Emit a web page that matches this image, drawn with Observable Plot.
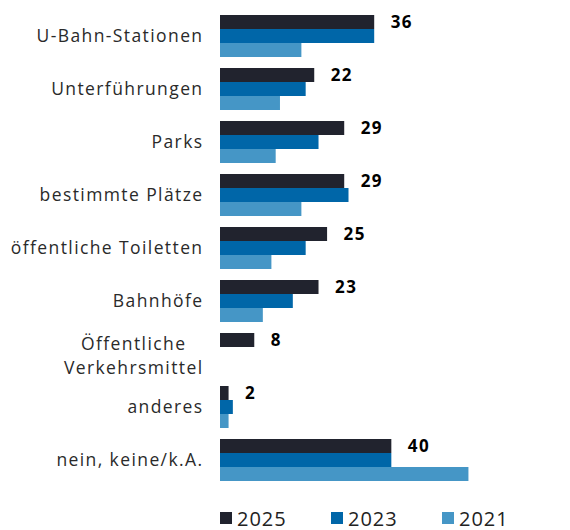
<!DOCTYPE html>
<html>
<head>
<meta charset="utf-8">
<script src="https://cdn.jsdelivr.net/npm/d3@7"></script>
<script src="https://cdn.jsdelivr.net/npm/@observablehq/plot@0.6"></script>
<style>
  body { margin: 0; background: #fff; font-family: "Open Sans", sans-serif; }
  #legend { display: flex; padding-left: 220px; height: 40px; margin-top: 3px; align-items: center; }
  .item { width: 111px; display: flex; align-items: center; font-size: 20px; color: #222; letter-spacing: 1px; }
  .sw { width: 12px; height: 12px; margin-right: 5px; }
</style>
</head>
<body>
<div id="chart"></div>
<div id="legend"></div>
<script>
const categories = ["U-Bahn-Stationen", "Unterführungen", "Parks", "bestimmte Plätze", "öffentliche Toiletten", "Bahnhöfe", "Öffentliche Verkehrsmittel", "anderes", "nein, keine/k.A."];
const years = ["2025", "2023", "2021"];
const v2025 = [36, 22, 29, 29, 25, 23, 8, 2, 40];
const v2023 = [36, 20, 23, 30, 20, 17, null, 3, 40];
const v2021 = [19, 14, 13, 19, 12, 10, null, 2, 58];
const colors = ["#21232e", "#0066a8", "#4596c6"];

const series = [v2025, v2023, v2021];
const data = [];
categories.forEach((c, i) => {
  years.forEach((y, j) => {
    const v = series[j][i];
    if (v != null) data.push({category: c, year: y, value: v});
  });
});

const fs = 17.5;
const ls = 1.4;
const multi = "Öffentliche Verkehrsmittel";
const multiText = "Öffentliche\nVerkehrsmittel";
const ctx = document.createElement("canvas").getContext("2d");
ctx.font = fs + "px 'Open Sans'";
const multiW = ctx.measureText("Verkehrsmittel").width + 14 * ls;

const chart = Plot.plot({
  width: 570,
  height: 495,
  marginLeft: 220,
  marginRight: 93,
  marginTop: 13,
  marginBottom: 12,
  style: {fontFamily: "'Open Sans', sans-serif", letterSpacing: ls + "px"},
  x: {domain: [0, 60], axis: null},
  y: {domain: years, padding: 0, axis: null},
  fy: {domain: categories, paddingInner: 0.174, paddingOuter: 0, axis: null},
  color: {domain: years, range: colors},
  marks: [
    Plot.barX(data, {x: "value", y: "year", fy: "category", fill: "year"}),
    Plot.text(data.filter(d => d.year === "2025"), {
      x: "value", y: "year", fy: "category", text: d => String(d.value),
      textAnchor: "start", dx: 16, fontWeight: 700, fontSize: 17, fill: "#000"
    }),
    Plot.text(categories.filter(c => c !== multi), {
      fy: d => d, text: d => d, frameAnchor: "left", textAnchor: "end",
      dx: -17, fontSize: fs, fill: "#2a2a2a"
    }),
    Plot.text([multi], {
      fy: d => d, text: () => multiText, frameAnchor: "left", textAnchor: "middle",
      dx: -(17 + multiW / 2), fontSize: fs, lineHeight: 1.35, fill: "#2a2a2a"
    })
  ]
});
document.getElementById("chart").appendChild(chart);

const legend = document.getElementById("legend");
years.forEach((y, j) => {
  const item = document.createElement("div");
  item.className = "item";
  const sw = document.createElement("span");
  sw.className = "sw";
  sw.style.background = colors[j];
  item.appendChild(sw);
  item.appendChild(document.createTextNode(y));
  legend.appendChild(item);
});
</script>
</body>
</html>
